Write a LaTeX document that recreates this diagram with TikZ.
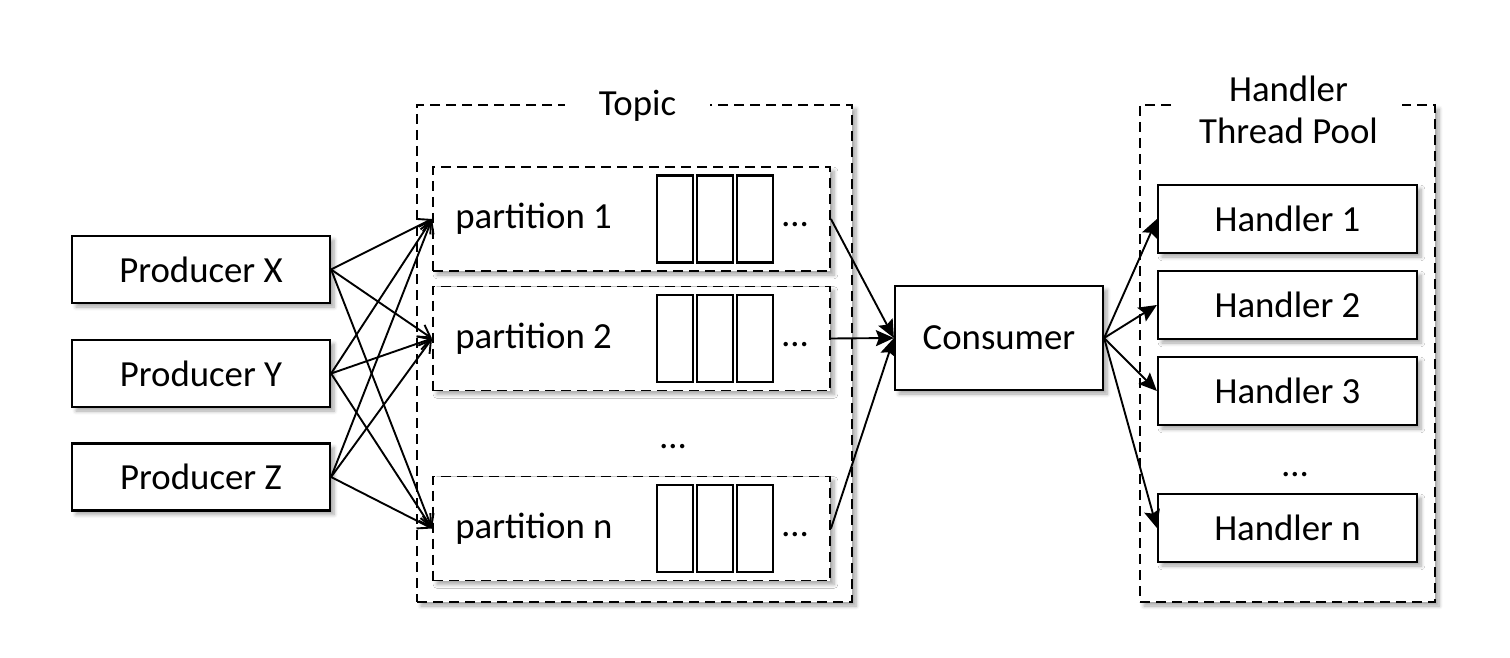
\documentclass[tikz,border=0pt]{standalone}
\usepackage{fontspec}
\setmainfont{Carlito}
\usetikzlibrary{arrows.meta,shadows,shadows.blur}

\tikzset{
  softshadow/.style={blur shadow={shadow xshift=2pt, shadow yshift=-2pt, shadow blur steps=6, shadow opacity=35}},
  box/.style={draw, fill=white, line width=1.1pt, inner sep=0pt, minimum width=129pt, minimum height=33.5pt, softshadow},
  dashbox/.style={draw, fill=white, line width=0.95pt, dash pattern=on 5pt off 3pt, inner sep=0pt, softshadow},
  cell/.style={draw, fill=white, line width=1.1pt, inner sep=0pt, minimum width=18pt, minimum height=43.5pt},
  title/.style={fill=white, inner xsep=0pt, inner ysep=1pt, align=center},
  ellip/.style={anchor=base, inner sep=0pt},
  feed/.style={-{Straight Barb[length=6pt,width=7pt]}, line width=0.95pt},
  pull/.style={-{Stealth[length=9pt,width=8pt,inset=1.5pt]}, line width=0.95pt},
}

\begin{document}
\begin{tikzpicture}[x=0.5pt, y=-0.5pt, font=\fontsize{18.4}{21}\selectfont]
\useasboundingbox (0,0) rectangle (1510,658);

% producers
\node[box] (px) at (201,269.5) {Producer X};
\node[box] (py) at (201,373.5) {Producer Y};
\node[box] (pz) at (201,477) {Producer Z};

% topic with its partitions
\node[dashbox, minimum width=217.5pt, minimum height=248.5pt] (topic) at (634.5,353.5) {};
\node[title, minimum width=72.5pt] (topictitle) at (637.5,106) {Topic};

\foreach \name/\label/\y in {pa/1/219, pb/2/338.5, pn/n/528.5}{
  \node[dashbox, minimum width=198.5pt, minimum height=52pt] (\name) at (631.5,\y) {};
  \node[anchor=west, inner sep=0pt] (\name-text) at (455,\y) {partition \label};
  \node[cell] (\name-c1) at (675,\y) {};
  \node[cell] (\name-c2) at (715,\y) {};
  \node[cell] (\name-c3) at (755,\y) {};
  \node[ellip] (\name-dots) at (795,\y+8) {…};
}
\node[ellip] (pdots) at (673,448) {…};

% consumer
\node[box, minimum width=104pt, minimum height=52pt] (cons) at (999,338) {Consumer};

% handler pool
\node[dashbox, minimum width=147.5pt, minimum height=248.5pt] (pool) at (1287.5,353.5) {};
\node[title, minimum width=113.5pt] (pooltitle) at (1288.5,110) {Handler\\Thread Pool};

\node[box, minimum width=129.5pt, minimum height=34pt] (h1) at (1287.5,219) {Handler 1};
\node[box, minimum width=129.5pt, minimum height=34pt] (h2) at (1287.5,305) {Handler 2};
\node[box, minimum width=129.5pt, minimum height=34pt] (h3) at (1287.5,391) {Handler 3};
\node[box, minimum width=129.5pt, minimum height=34pt] (hn) at (1287.5,528) {Handler n};
\node[ellip] (hdots) at (1295,476) {…};

% producers write to every partition
\foreach \p in {px,py,pz}{
  \foreach \q in {pa,pb,pn}{
    \draw[feed] (\p.east) -- (\q.west);
  }
}

% partitions feed the consumer
\foreach \q in {pa,pb,pn}{
  \draw[pull] (\q.east) -- (cons.west);
}

% consumer dispatches to the handlers
\foreach \h in {h1,h2,h3,hn}{
  \draw[pull] (cons.east) -- (\h.west);
}
\end{tikzpicture}
\end{document}
